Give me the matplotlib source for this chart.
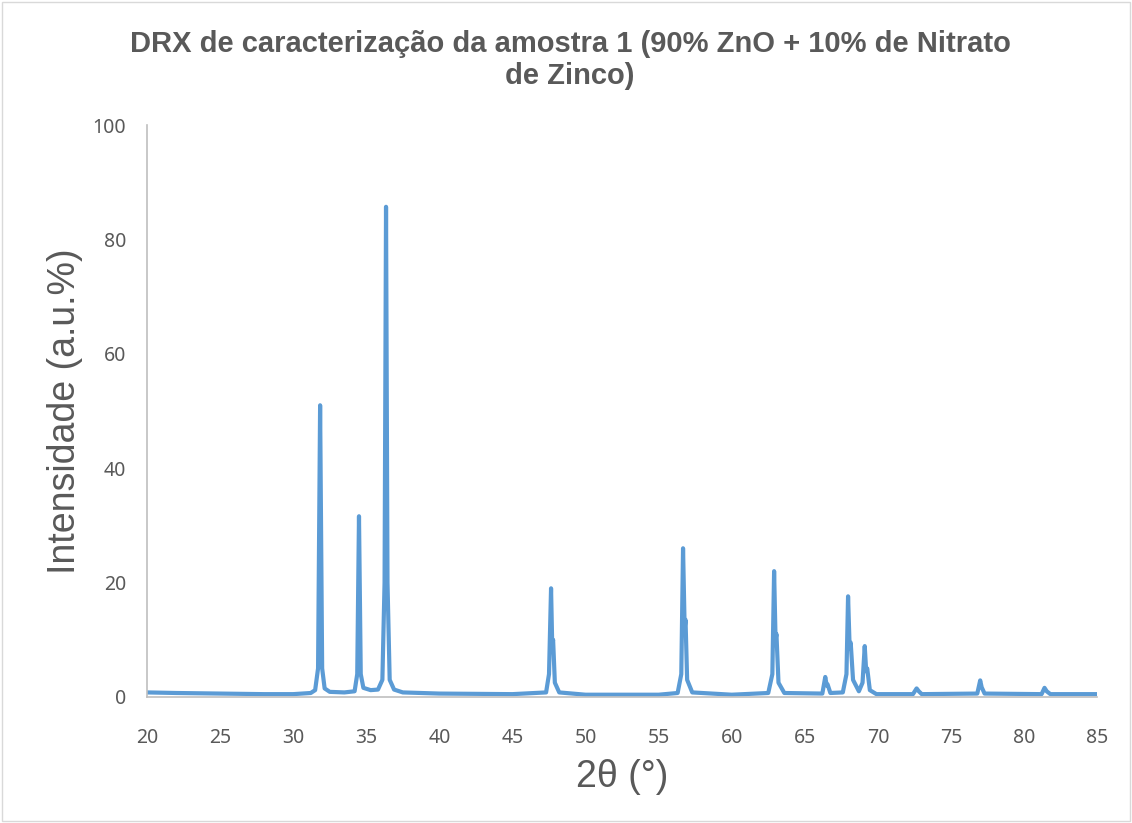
import matplotlib
matplotlib.use('Agg')
from matplotlib import pyplot as plt
from matplotlib.patches import Rectangle

# curva DRX (2theta, intensidade)
two_theta = [20.0, 22.0, 25.0, 28.0, 30.0, 31.2, 31.5, 31.7, 31.84, 31.98, 32.15, 32.5,
             33.5, 34.2, 34.38, 34.5, 34.62, 34.8, 35.3, 35.8, 36.1, 36.25, 36.35, 36.45,
             36.6, 36.9, 37.5, 40.0, 45.0, 47.3, 47.5, 47.64, 47.72, 47.78, 47.9, 48.2,
             50.0, 55.0, 56.3, 56.55, 56.67, 56.78, 56.84, 56.95, 57.3, 60.0, 62.5, 62.78,
             62.9, 63.0, 63.06, 63.2, 63.6, 66.2, 66.4, 66.5, 66.56, 66.75, 67.6, 67.85,
             67.96, 68.07, 68.14, 68.3, 68.7, 68.95, 69.1, 69.2, 69.27, 69.45, 69.9, 72.4,
             72.65, 72.8, 73.0, 76.8, 77.0, 77.1, 77.3, 81.2, 81.4, 81.55, 81.8, 85.0]
intensidade = [0.8, 0.7, 0.6, 0.5, 0.5, 0.7, 1.2, 5.0, 51.0, 5.0, 1.5, 0.9,
               0.8, 1.0, 4.0, 31.6, 4.0, 1.6, 1.2, 1.3, 3.0, 20.0, 85.7, 20.0,
               3.0, 1.3, 0.8, 0.6, 0.5, 0.8, 4.0, 19.0, 9.0, 10.0, 2.5, 0.8,
               0.4, 0.4, 0.7, 4.0, 26.0, 12.0, 13.5, 3.0, 0.8, 0.4, 0.7, 4.0,
               22.0, 10.0, 11.0, 2.5, 0.7, 0.6, 3.5, 2.0, 2.2, 0.7, 0.8, 4.0,
               17.6, 8.5, 9.5, 3.0, 1.0, 2.5, 8.9, 4.5, 5.0, 1.2, 0.5, 0.5,
               1.5, 1.0, 0.5, 0.6, 2.9, 1.7, 0.6, 0.5, 1.6, 1.0, 0.5, 0.5]

x_ticks = list(range(20, 90, 5))
y_ticks = list(range(0, 120, 20))

cinza = '#595959'
azul = '#5B9BD5'

fig = plt.figure(figsize=(11.32, 8.23), dpi=100)
ax = fig.add_axes([0.1299, 0.1531, 0.8393, 0.6950])

ax.plot(two_theta, intensidade, color=azul, linewidth=3.0,
        solid_joinstyle='round', solid_capstyle='round')

ax.set_xlim(20, 85)
ax.set_ylim(0, 100)
ax.set_xticks(x_ticks)
ax.set_yticks(y_ticks)
ax.tick_params(length=0, labelsize=14, labelcolor=cinza)
ax.tick_params(axis='x', pad=22)
ax.tick_params(axis='y', pad=15)
for lab in ax.get_xticklabels() + ax.get_yticklabels():
    lab.set_family('Noto Sans')

for s in ['top', 'right']:
    ax.spines[s].set_visible(False)
for s in ['left', 'bottom']:
    ax.spines[s].set_color('#BFBFBF')
    ax.spines[s].set_linewidth(1.2)

ax.set_xlabel('2θ (°)', fontsize=27, color=cinza, family='Liberation Sans', labelpad=8)
ax.set_ylabel('Intensidade (a.u.%)', fontsize=27, color=cinza, family='Liberation Sans', labelpad=7)

fig.text(0.5035, 0.927, 'DRX de caracterização da amostra 1 (90% ZnO + 10% de Nitrato\nde Zinco)',
         ha='center', va='center', fontsize=21, fontweight='bold', color=cinza,
         family='Liberation Sans', linespacing=1.15)

# borda da area do grafico
fig.patches.append(Rectangle((0.002, 0.002), 0.996, 0.996, transform=fig.transFigure,
                             fill=False, edgecolor='#D9D9D9', linewidth=1))

fig.savefig('out.png', dpi=100)
